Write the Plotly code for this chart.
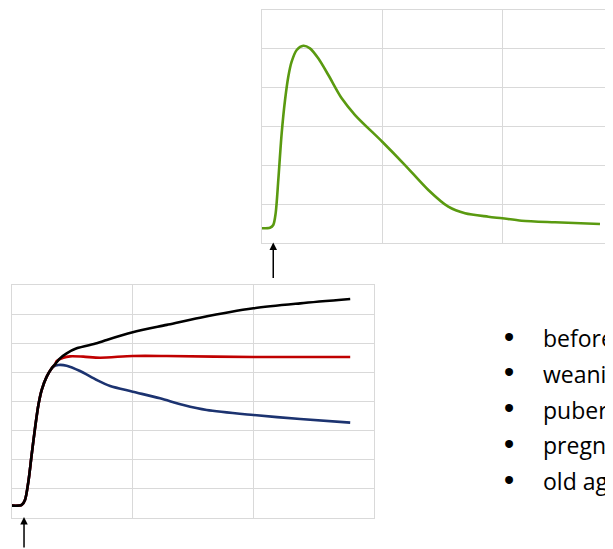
import plotly.graph_objects as go

# ---- Data (time in grid units, response in grid units) ----
t_single = [0.0, 0.069, 0.096, 0.116, 0.138, 0.166, 0.194, 0.221, 0.249, 0.291, 0.346, 0.401,
            0.470, 0.554, 0.665, 0.776, 1.002, 1.191, 1.385, 1.551, 1.690, 1.884, 2.0, 2.161,
            2.438, 2.812]
resp_single = [0.386, 0.401, 0.471, 0.771, 1.628, 2.829, 3.685, 4.284, 4.670, 4.971, 5.081,
               5.014, 4.757, 4.328, 3.728, 3.299, 2.612, 2.013, 1.371, 0.941, 0.771, 0.684,
               0.643, 0.581, 0.540, 0.496]

t_rise = [0.0, 0.083, 0.110, 0.138, 0.165, 0.193, 0.221, 0.248, 0.290, 0.331]
resp_rise = [0.414, 0.437, 0.608, 1.239, 2.155, 3.073, 3.874, 4.390, 4.848, 5.136]

t_black = [0.359, 0.400, 0.455, 0.538, 0.704, 0.787, 1.002, 1.284, 1.560, 2.002, 2.389, 2.803]
resp_black = [5.273, 5.479, 5.651, 5.823, 5.995, 6.110, 6.373, 6.629, 6.876, 7.198, 7.369, 7.518]

t_red = [0.359, 0.373, 0.428, 0.483, 0.593, 0.732, 1.002, 1.284, 2.002, 2.803]
resp_red = [5.273, 5.387, 5.501, 5.547, 5.536, 5.501, 5.559, 5.559, 5.524, 5.524]

t_blue = [0.345, 0.387, 0.455, 0.566, 0.704, 0.815, 1.002, 1.228, 1.422, 1.615, 2.002, 2.389, 2.803]
resp_blue = [5.192, 5.249, 5.226, 5.043, 4.734, 4.527, 4.333, 4.104, 3.874, 3.702, 3.530, 3.393, 3.267]

stim_top = 0.096
stim_bottom = 0.102

bullets = ["before birth", "weaning", "puberty", "pregnancy", "old age"]

GRID = "#d9d9d9"

fig = go.Figure()

fig.add_trace(go.Scatter(x=t_single, y=resp_single, mode="lines",
                         line=dict(color="#5a9a10", width=2.6, shape="spline", smoothing=0.8),
                         xaxis="x", yaxis="y", showlegend=False, hoverinfo="skip"))

blue_x = t_rise[:-1] + t_blue
blue_y = resp_rise[:-1] + resp_blue
red_x = t_rise + t_red
red_y = resp_rise + resp_red
black_x = t_rise + t_black
black_y = resp_rise + resp_black

fig.add_trace(go.Scatter(x=blue_x, y=blue_y, mode="lines",
                         line=dict(color="#1c3370", width=2.6, shape="spline", smoothing=0.8),
                         xaxis="x2", yaxis="y2", showlegend=False, hoverinfo="skip"))
fig.add_trace(go.Scatter(x=red_x, y=red_y, mode="lines",
                         line=dict(color="#c00000", width=2.6, shape="spline", smoothing=0.8),
                         xaxis="x2", yaxis="y2", showlegend=False, hoverinfo="skip"))
fig.add_trace(go.Scatter(x=black_x, y=black_y, mode="lines",
                         line=dict(color="#000000", width=2.6, shape="spline", smoothing=0.8),
                         xaxis="x2", yaxis="y2", showlegend=False, hoverinfo="skip"))

# page body has an 8px margin; figure sized to fill the window
OX, OY = 8, 8
W, H = 613 - OX, 549 - OY

def px(x):
    return (x - OX) / W

def py(y):
    return (H - (y - OY)) / H

def ax(**kw):
    d = dict(showgrid=True, gridcolor=GRID, gridwidth=1, showticklabels=False, ticks="",
             zeroline=False, showline=True, linecolor=GRID, linewidth=1, dtick=1, tick0=0, fixedrange=True)
    d.update(kw)
    return d

fig.update_layout(
    width=W, height=H, margin=dict(l=0, r=0, t=0, b=0),
    paper_bgcolor="white", plot_bgcolor="white",
    xaxis=ax(domain=[px(261.7), 1.0], range=[0, (613 - 261.7) / 120.3], anchor="y", mirror=True),
    yaxis=ax(domain=[py(243.3), py(10)], range=[0, 6], anchor="x", mirror=False),
    xaxis2=ax(domain=[px(11.7), px(374)], range=[0, 3], anchor="y2", mirror=True),
    yaxis2=ax(domain=[py(517.7), py(285)], range=[0, 8], anchor="x2", mirror=True),
)

annotations = [
    dict(x=stim_top, y=0.02, xref="x", yref="y", ax=0, ay=37, axref="pixel", ayref="pixel",
         showarrow=True, arrowhead=2, arrowsize=1, arrowwidth=1.5, arrowcolor="black", text=""),
    dict(x=stim_bottom, y=0.02, xref="x2", yref="y2", ax=0, ay=34, axref="pixel", ayref="pixel",
         showarrow=True, arrowhead=2, arrowsize=1, arrowwidth=1.5, arrowcolor="black", text=""),
]
y0 = 338
for i, b in enumerate(bullets):
    yc = py(y0 + 35.8 * i)
    annotations.append(dict(x=px(508.5), y=py(y0 + 35.8 * i - 1.5), xref="paper", yref="paper", text="•",
                            showarrow=False, xanchor="center", yanchor="middle",
                            font=dict(family="Liberation Sans", size=29, color="black")))
    annotations.append(dict(x=px(541), y=yc, xref="paper", yref="paper", text=b, showarrow=False,
                            xanchor="left", yanchor="middle", font=dict(family="Open Sans", size=23, color="black")))
fig.update_layout(annotations=annotations)

fig.write_html("out.html")
